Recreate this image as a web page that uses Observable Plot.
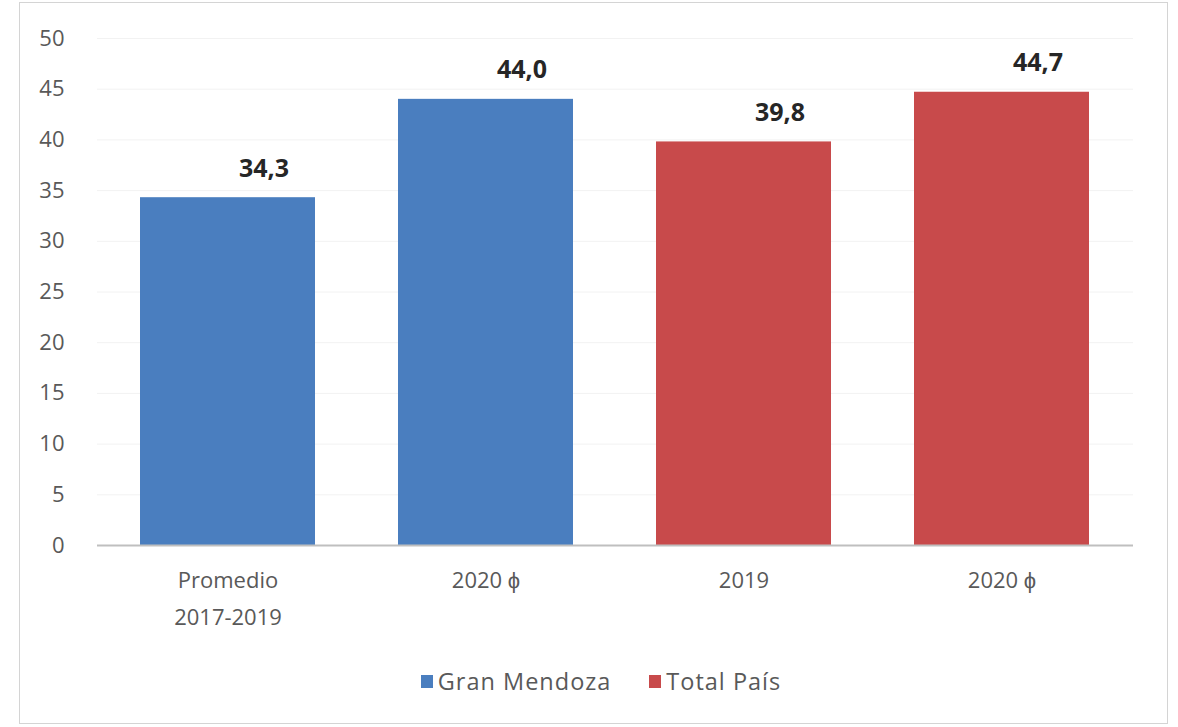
<!DOCTYPE html>
<html>
<head>
<meta charset="utf-8">
<script src="https://cdn.jsdelivr.net/npm/d3@7"></script>
<script src="https://cdn.jsdelivr.net/npm/@observablehq/plot@0.6"></script>
<style>
  html, body { margin: 0; padding: 0; background: #fff; }
  #wrap { position: relative; width: 1178px; height: 727px; overflow: hidden; font-family: "Open Sans", sans-serif; }
  #frame { position: absolute; left: 19px; top: 2px; width: 1149px; height: 722px; border: 1px solid #d4d4d4; box-sizing: border-box; }
  #chart { position: absolute; left: 0; top: 0; }
  #legend { position: absolute; left: 0; top: 665px; width: 1178px; display: flex; justify-content: center; gap: 38px; font-size: 23.5px; letter-spacing: 1px; color: #595959; padding-left: 24px; box-sizing: border-box; }
  .item { display: flex; align-items: center; gap: 5px; }
  .sw { width: 12px; height: 13px; display: inline-block; }
</style>
</head>
<body>
<div id="wrap">
  <div id="frame"></div>
  <div id="chart"></div>
  <div id="legend"></div>
</div>
<script>
const categories = ["Promedio\n2017-2019", "2020 ϕ", "2019", "2020 ϕ"];
const series = ["Gran Mendoza", "Gran Mendoza", "Total País", "Total País"];
const values = [34.3, 44.0, 39.8, 44.7];
const seriesNames = ["Gran Mendoza", "Total País"];
const seriesColors = ["#4A7EBF", "#C84A4B"];
const yTicks = [0, 5, 10, 15, 20, 25, 30, 35, 40, 45, 50];

const data = categories.map((c, i) => ({key: i, label: c, series: series[i], value: values[i]}));
const fmt = v => v.toFixed(1).replace(".", ",");

const plot = Plot.plot({
  width: 1178,
  height: 650,
  marginLeft: 97,
  marginRight: 45,
  marginTop: 38,
  marginBottom: 105,
  style: {fontFamily: "Open Sans, sans-serif", background: "transparent"},
  x: {domain: data.map(d => d.key), paddingInner: 0.32, paddingOuter: 0.165, label: null},
  y: {domain: [0, 50], label: null},
  color: {domain: seriesNames, range: seriesColors},
  marks: [
    Plot.gridY(yTicks, {stroke: "#f2f2f2", strokeOpacity: 1}),
    Plot.barY(data, {x: "key", y: "value", fill: "series"}),
    Plot.ruleY([0], {stroke: "#bfbfbf", strokeWidth: 2}),
    Plot.text(data, {x: "key", y: "value", text: d => fmt(d.value), dx: 36, dy: -29, fontSize: 25, fontWeight: "bold", fill: "#262626"}),
    Plot.axisY({ticks: yTicks, tickSize: 0, tickPadding: 33, fontSize: 22, color: "#595959", tickFormat: d => String(d)}),
    Plot.axisX({tickSize: 0, tickPadding: 17, fontSize: 22, color: "#595959", lineHeight: 1.65, tickFormat: k => categories[k]})
  ]
});
document.getElementById("chart").appendChild(plot);

const legend = document.getElementById("legend");
seriesNames.forEach((n, i) => {
  const it = document.createElement("div");
  it.className = "item";
  const sw = document.createElement("span");
  sw.className = "sw";
  sw.style.background = seriesColors[i];
  const t = document.createElement("span");
  t.textContent = n;
  it.appendChild(sw); it.appendChild(t);
  legend.appendChild(it);
});
</script>
</body>
</html>
